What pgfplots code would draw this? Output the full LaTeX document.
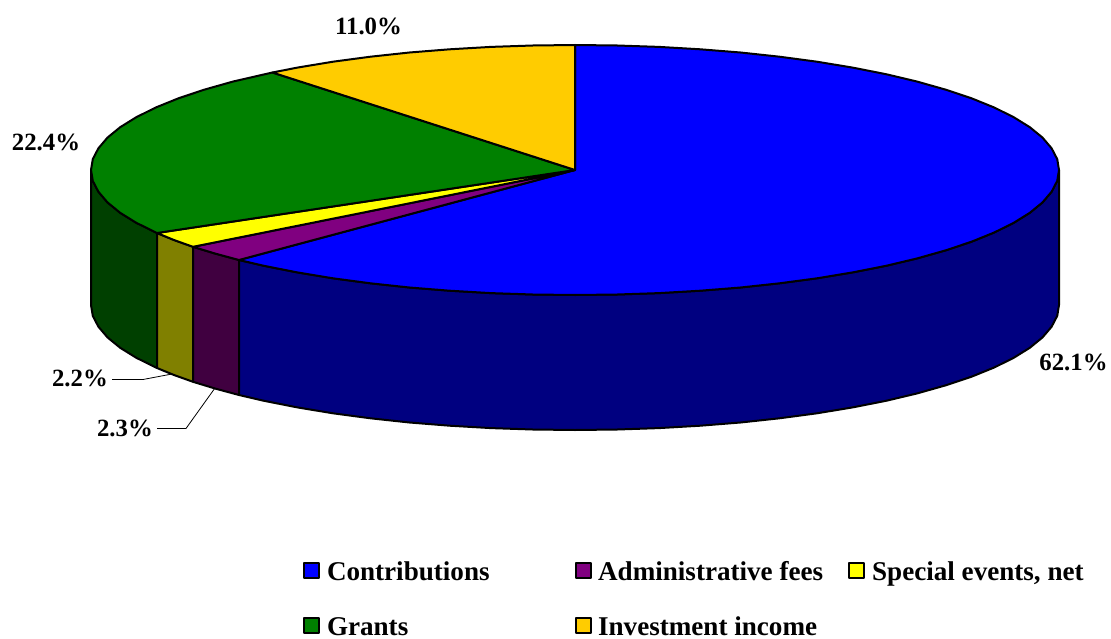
\documentclass[border=0pt]{standalone}
\usepackage{pgfplots}
\pgfplotsset{compat=1.18}
\usepackage{fontspec}
\setmainfont{Liberation Serif}
\definecolor{cblue}{HTML}{0000FF}\definecolor{dblue}{HTML}{000080}
\definecolor{cpur}{HTML}{800080}\definecolor{dpur}{HTML}{400040}
\definecolor{cyel}{HTML}{FFFF00}\definecolor{dyel}{HTML}{808000}
\definecolor{cgrn}{HTML}{008000}\definecolor{dgrn}{HTML}{004000}
\definecolor{cgold}{HTML}{FFCC00}
\tikzset{pct/.style={font=\fontsize{24.9}{28}\selectfont\bfseries,inner sep=0pt}}
\pgfplotsset{
  slice/.style={draw=black,line width=2bp,line join=round,fill=#1},
  swatch/.style={legend image code/.code={
    \draw[black,line width=2bp,fill=#1] (0bp,-4.5bp) rectangle (15bp,10.5bp);}},
}
\begin{document}
\begin{tikzpicture}
\path[use as bounding box] (0bp,0bp) rectangle (1111bp,639bp);
\begin{axis}[
  scale only axis,width=1111bp,height=639bp,
  xmin=0,xmax=1111,ymin=0,ymax=639,y dir=reverse,
  axis lines=none,clip=false,
  legend cell align=left,
  legend columns=3,
  legend style={at={(axis cs:303,561)},anchor=north west,draw=none,fill=none,
    inner sep=0pt,outer sep=0pt,
    font=\fontsize{27.2}{30}\selectfont\bfseries,
    row sep=30bp,
    nodes={inner sep=0pt,outer sep=0pt,text height=19bp,text depth=6bp},
    /tikz/column 1/.style={column sep=7bp},
    /tikz/column 2/.style={column sep=85.5bp},
    /tikz/column 3/.style={column sep=6bp},
    /tikz/column 4/.style={column sep=25bp},
    /tikz/column 5/.style={column sep=7bp}},
]
% --- sides ---
\addplot[slice=dgrn,forget plot] coordinates {(157,233)(136.3,222.8)(120.2,212.8)(107.5,202.4)(98.4,191.7)(92.8,180.9)(91,170)(91,305)(92.8,315.9)(98.4,326.7)(107.5,337.4)(120.2,347.8)(136.3,357.8)(157,368)} -- cycle;
\addplot[slice=dyel,forget plot] coordinates {(193,246.8)(173.7,239.9)(157,233)(157,368)(173.7,374.9)(193,381.8)} -- cycle;
\addplot[slice=dpur,forget plot] coordinates {(239,260)(215.3,253.6)(193,246.8)(193,381.8)(215.3,388.6)(239,395)} -- cycle;
\addplot[slice=dblue,forget plot] coordinates {(239,260)(263.9,265.8)(297.4,272.4)(333,278.3)(370.5,283.3)(409.5,287.5)(449.7,290.7)(491,293.1)(532.8,294.5)(575,295)(617.2,294.5)(659,293.1)(700.3,290.7)(740.5,287.5)(779.5,283.3)(817,278.3)(852.6,272.4)(886.1,265.8)(917.2,258.4)(945.8,250.3)(971.5,241.7)(994.2,232.5)(1013.7,222.8)(1029.8,212.8)(1042.5,202.4)(1051.6,191.7)(1057.2,180.9)(1059,170)(1059,305)(1057.2,315.9)(1051.6,326.7)(1042.5,337.4)(1029.8,347.8)(1013.7,357.8)(994.2,367.5)(971.5,376.7)(945.8,385.3)(917.2,393.4)(886.1,400.8)(852.6,407.4)(817,413.3)(779.5,418.3)(740.5,422.5)(700.3,425.7)(659,428.1)(617.2,429.5)(575,430)(532.8,429.5)(491,428.1)(449.7,425.7)(409.5,422.5)(370.5,418.3)(333,413.3)(297.4,407.4)(263.9,400.8)(239,395)} -- cycle;
% --- top faces ---
\addplot[slice=cblue,swatch=cblue] coordinates {(575,170)(575,45)(617.2,45.5)(659,46.9)(700.3,49.3)(740.5,52.5)(779.5,56.7)(817,61.7)(852.6,67.6)(886.1,74.2)(917.2,81.6)(945.8,89.7)(971.5,98.3)(994.2,107.5)(1013.7,117.2)(1029.8,127.2)(1042.5,137.6)(1051.6,148.3)(1057.2,159.1)(1059,170)(1057.2,180.9)(1051.6,191.7)(1042.5,202.4)(1029.8,212.8)(1013.7,222.8)(994.2,232.5)(971.5,241.7)(945.8,250.3)(917.2,258.4)(886.1,265.8)(852.6,272.4)(817,278.3)(779.5,283.3)(740.5,287.5)(700.3,290.7)(659,293.1)(617.2,294.5)(575,295)(532.8,294.5)(491,293.1)(449.7,290.7)(409.5,287.5)(370.5,283.3)(333,278.3)(297.4,272.4)(263.9,265.8)(239,260)} -- cycle;
\addlegendentry{Contributions}
\addplot[slice=cpur,swatch=cpur] coordinates {(575,170)(239,260)(215.3,253.6)(193,246.8)} -- cycle;
\addlegendentry{Administrative fees}
\addplot[slice=cyel,swatch=cyel] coordinates {(575,170)(193,246.8)(173.7,239.9)(157,233)} -- cycle;
\addlegendentry{Special events, net}
\addplot[slice=cgrn,swatch=cgrn] coordinates {(575,170)(157,233)(136.3,222.8)(120.2,212.8)(107.5,202.4)(98.4,191.7)(92.8,180.9)(91,170)(92.8,159.1)(98.4,148.3)(107.5,137.6)(120.2,127.2)(136.3,117.2)(155.8,107.5)(178.5,98.3)(204.2,89.7)(232.8,81.6)(272.4,72.5)} -- cycle;
\addlegendentry{Grants}
\addplot[slice=cgold,swatch=cgold] coordinates {(575,170)(272.4,72.5)(297.4,67.6)(333,61.7)(370.5,56.7)(409.5,52.5)(449.7,49.3)(491,46.9)(532.8,45.5)(575,45)} -- cycle;
\addlegendentry{Investment income}
% --- leader lines ---
\addplot[black,line width=0.8bp,forget plot] coordinates {(112,379.5)(143,379.5)(172,374)};
\addplot[black,line width=0.8bp,forget plot] coordinates {(157,428.5)(186,428.5)(215,388)};
% --- labels ---
\node[pct] at (axis cs:368.5,26) {11.0\%};
\node[pct] at (axis cs:46,142) {22.4\%};
\node[pct] at (axis cs:1073.5,362) {62.1\%};
\node[pct] at (axis cs:80,378.5) {2.2\%};
\node[pct] at (axis cs:125,428) {2.3\%};
\end{axis}
\end{tikzpicture}
\end{document}
